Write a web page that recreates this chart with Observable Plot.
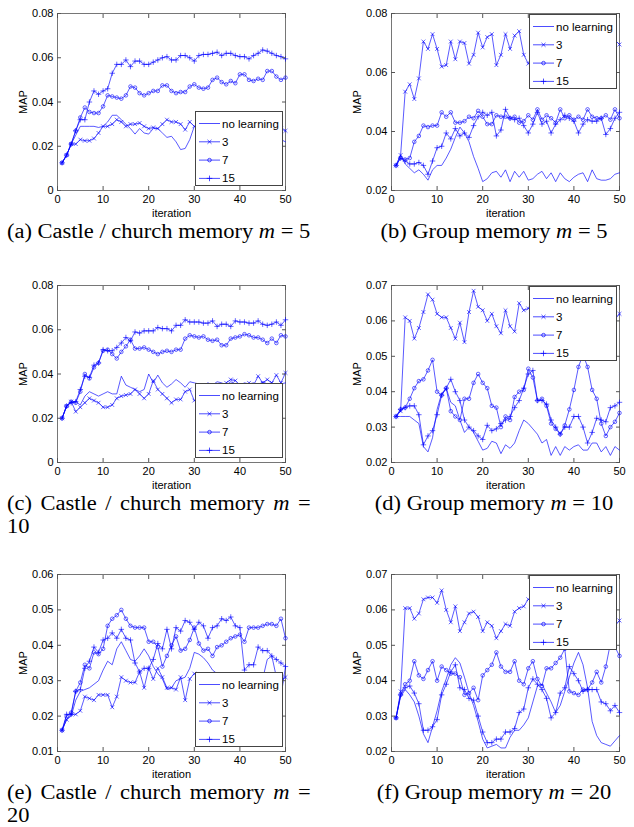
<!DOCTYPE html>
<html><head><meta charset="utf-8">
<script src="https://cdn.jsdelivr.net/npm/d3@7"></script>
<script src="https://cdn.jsdelivr.net/npm/@observablehq/plot@0.6"></script>
<style>
html,body{margin:0;padding:0;background:#fff}
#page{position:relative;width:634px;height:827px;overflow:hidden;background:#fff}
.panel{position:absolute}
.cap{position:absolute;font-family:"Liberation Serif","Times New Roman",serif;font-size:20px;line-height:23px;color:#000;white-space:nowrap;transform:scaleX(1.125)}
.cap.l{transform-origin:0 0}
.cap.c{text-align:center;transform-origin:50% 0}
.cap .line{display:block}
.cap .just{text-align:justify;text-align-last:justify}
.legend{position:absolute}
</style>
</head><body><div id="page"></div>
<script>
// ---------- data ----------
const ITERATIONS = [1,2,3,4,5,6,7,8,9,10,11,12,13,14,15,16,17,18,19,20,21,22,23,24,25,26,27,28,29,30,31,32,33,34,35,36,37,38,39,40,41,42,43,44,45,46,47,48,49,50];
const SERIES = ["no learning", "3", "7", "15"];
const X_TICKS = [0, 10, 20, 30, 40, 50];

// (a) Castle / church, m = 5
const A_NONE = [0.0125,0.016,0.021,0.025,0.029,0.029,0.029,0.029,0.0285,0.029, 0.031,0.034,0.034,0.032,0.030,0.028,0.0255,0.028,0.026,0.0255, 0.028,0.028,0.026,0.024,0.0245,0.022,0.0185,0.019,0.023,0.029, 0.027,0.025,0.026,0.024,0.023,0.025,0.026,0.024,0.022,0.023, 0.024,0.025,0.023,0.022,0.024,0.023,0.021,0.022,0.023,0.022];
const A_3 = [0.0125,0.016,0.021,0.021,0.023,0.0225,0.0225,0.0235,0.026,0.029, 0.029,0.030,0.032,0.031,0.029,0.030,0.030,0.0305,0.029,0.028, 0.0285,0.028,0.030,0.032,0.031,0.031,0.030,0.0275,0.031,0.029, 0.030,0.029,0.031,0.030,0.028,0.029,0.031,0.030,0.029,0.028, 0.030,0.029,0.027,0.028,0.030,0.029,0.028,0.027,0.028,0.027];
const A_7 = [0.0125,0.016,0.021,0.027,0.033,0.0375,0.0355,0.035,0.035,0.038, 0.043,0.0425,0.042,0.0415,0.043,0.047,0.0465,0.044,0.043,0.044, 0.045,0.045,0.0475,0.0475,0.045,0.044,0.0445,0.0445,0.047,0.048, 0.0465,0.046,0.0465,0.050,0.051,0.049,0.048,0.0495,0.0485,0.0525, 0.0525,0.050,0.0495,0.0505,0.050,0.054,0.054,0.0515,0.050,0.051];
const A_15 = [0.0125,0.016,0.021,0.027,0.032,0.032,0.040,0.045,0.0435,0.045, 0.046,0.053,0.057,0.057,0.059,0.056,0.0585,0.0585,0.057,0.057, 0.058,0.059,0.060,0.0605,0.059,0.059,0.061,0.061,0.060,0.0585, 0.061,0.0615,0.0615,0.062,0.0625,0.061,0.062,0.062,0.061,0.0605, 0.0605,0.0595,0.061,0.062,0.0635,0.063,0.062,0.061,0.0605,0.0595];

// (b) Group, m = 5
const B_NONE = [0.0285,0.032,0.029,0.0275,0.026,0.027,0.0255,0.0235,0.027,0.0285, 0.0285,0.031,0.034,0.038,0.0415,0.0395,0.0365,0.0315,0.0275,0.023, 0.024,0.026,0.0265,0.0245,0.027,0.023,0.0265,0.0245,0.0265,0.0235, 0.024,0.0255,0.0265,0.024,0.026,0.023,0.026,0.024,0.023,0.0245, 0.0255,0.026,0.023,0.027,0.024,0.0235,0.0235,0.024,0.0255,0.026];
const B_3 = [0.0285,0.032,0.0535,0.056,0.051,0.058,0.0705,0.068,0.073,0.068, 0.062,0.0625,0.0705,0.0645,0.0705,0.070,0.063,0.066,0.0735,0.0685, 0.072,0.073,0.0625,0.066,0.073,0.068,0.0725,0.074,0.066,0.063, 0.067,0.070,0.065,0.069,0.072,0.066,0.068,0.071,0.065,0.069, 0.072,0.067,0.070,0.066,0.071,0.068,0.072,0.067,0.071,0.0695];
const B_7 = [0.0285,0.031,0.0305,0.031,0.0365,0.0385,0.042,0.0415,0.042,0.042, 0.0465,0.045,0.0465,0.043,0.043,0.0435,0.045,0.0445,0.047,0.045, 0.0425,0.0425,0.0455,0.045,0.045,0.0445,0.045,0.043,0.0435,0.0455, 0.044,0.0475,0.044,0.0455,0.0445,0.043,0.0475,0.0445,0.0455,0.044, 0.045,0.044,0.0475,0.045,0.0445,0.0445,0.0455,0.044,0.0475,0.0445];
const B_15 = [0.0285,0.031,0.030,0.029,0.029,0.0295,0.0285,0.0255,0.030,0.0345, 0.035,0.0395,0.0375,0.041,0.0385,0.0395,0.038,0.042,0.045,0.0465, 0.0455,0.0465,0.0385,0.0405,0.0475,0.0445,0.044,0.0445,0.042,0.0395, 0.0425,0.0465,0.0425,0.0435,0.0395,0.0425,0.044,0.0455,0.0445,0.0435, 0.0395,0.0425,0.044,0.0435,0.0435,0.0445,0.039,0.041,0.0445,0.0465];

// (c) Castle / church, m = 10
const C_NONE = [0.020,0.0255,0.0275,0.0275,0.026,0.030,0.032,0.031,0.030,0.031, 0.032,0.031,0.031,0.039,0.035,0.034,0.033,0.032,0.033,0.040, 0.036,0.0395,0.036,0.034,0.0355,0.0375,0.036,0.034,0.0365,0.036, 0.0355,0.035,0.036,0.035,0.0365,0.036,0.035,0.0365,0.0355,0.035, 0.036,0.0355,0.036,0.035,0.0365,0.0355,0.036,0.035,0.0355,0.036];
const C_3 = [0.020,0.0255,0.0275,0.023,0.025,0.027,0.029,0.028,0.027,0.025, 0.025,0.026,0.029,0.030,0.0305,0.031,0.033,0.031,0.029,0.031, 0.037,0.033,0.031,0.029,0.027,0.0285,0.0285,0.032,0.033,0.028, 0.030,0.032,0.034,0.033,0.035,0.034,0.036,0.0375,0.037,0.035, 0.034,0.036,0.035,0.039,0.036,0.0375,0.036,0.0395,0.036,0.0405];
const C_7 = [0.020,0.0255,0.0275,0.027,0.032,0.040,0.038,0.043,0.045,0.0505, 0.051,0.049,0.047,0.050,0.0525,0.0555,0.0515,0.0515,0.052,0.051, 0.050,0.049,0.050,0.0505,0.050,0.051,0.051,0.056,0.0575,0.057, 0.0565,0.057,0.0555,0.055,0.0555,0.053,0.053,0.056,0.0565,0.057, 0.058,0.0575,0.0565,0.0565,0.0555,0.054,0.056,0.054,0.0575,0.057];
const C_15 = [0.020,0.0255,0.027,0.0275,0.033,0.039,0.0385,0.044,0.045,0.051, 0.0505,0.0505,0.052,0.054,0.0565,0.055,0.059,0.0585,0.0595,0.0595, 0.0595,0.061,0.0605,0.0605,0.0595,0.062,0.062,0.0645,0.0635,0.0635, 0.0635,0.063,0.063,0.064,0.0615,0.0625,0.0625,0.0615,0.064,0.0635, 0.0635,0.063,0.063,0.064,0.0625,0.062,0.0625,0.0635,0.062,0.0645];

// (d) Group, m = 10
const D_NONE = [0.033,0.033,0.033,0.033,0.032,0.031,0.0245,0.023,0.027,0.035, 0.0395,0.041,0.037,0.036,0.032,0.0285,0.030,0.0285,0.026,0.0235, 0.024,0.026,0.0255,0.0225,0.025,0.024,0.0255,0.029,0.032,0.031, 0.0295,0.028,0.0255,0.0265,0.022,0.0245,0.022,0.0245,0.0235,0.0245, 0.025,0.0235,0.0235,0.0255,0.0255,0.023,0.0245,0.022,0.0245,0.0235];
const D_3 = [0.033,0.0345,0.061,0.060,0.055,0.058,0.0625,0.0675,0.066,0.062, 0.061,0.061,0.058,0.055,0.0595,0.054,0.0625,0.0685,0.064,0.063, 0.060,0.062,0.0585,0.0565,0.063,0.0585,0.057,0.065,0.063,0.0635, 0.066,0.061,0.064,0.059,0.063,0.065,0.060,0.062,0.066,0.061, 0.064,0.060,0.063,0.065,0.061,0.063,0.060,0.064,0.0605,0.062];
const D_7 = [0.033,0.035,0.0355,0.038,0.041,0.043,0.0435,0.046,0.049,0.040, 0.039,0.041,0.0345,0.033,0.032,0.038,0.038,0.0425,0.045,0.0425, 0.041,0.036,0.0355,0.030,0.033,0.032,0.0385,0.040,0.0405,0.0465, 0.044,0.0375,0.038,0.036,0.031,0.0295,0.028,0.0305,0.035,0.0405, 0.047,0.0505,0.047,0.0405,0.038,0.031,0.0275,0.030,0.0315,0.034];
const D_15 = [0.033,0.035,0.0355,0.036,0.036,0.0335,0.025,0.0275,0.029,0.0335, 0.039,0.041,0.0435,0.040,0.0375,0.032,0.030,0.029,0.0275,0.0265, 0.0305,0.029,0.0295,0.031,0.032,0.033,0.0355,0.0375,0.041,0.045, 0.046,0.0375,0.0375,0.0365,0.032,0.030,0.028,0.030,0.030,0.033, 0.033,0.030,0.0255,0.0285,0.0325,0.032,0.0315,0.0355,0.036,0.037];

// (e) Castle / church, m = 20
const E_NONE = [0.016,0.019,0.020,0.0245,0.027,0.0275,0.028,0.029,0.030,0.033, 0.0355,0.0345,0.039,0.041,0.0385,0.036,0.0355,0.037,0.039,0.037, 0.034,0.032,0.0305,0.0275,0.028,0.030,0.0305,0.031,0.0335,0.038, 0.0375,0.0365,0.035,0.033,0.032,0.031,0.0315,0.032,0.0305,0.031, 0.030,0.0315,0.029,0.028,0.0305,0.036,0.037,0.031,0.0255,0.034];
const E_3 = [0.016,0.019,0.0205,0.0205,0.0215,0.0255,0.025,0.0245,0.026,0.026, 0.026,0.0225,0.0255,0.031,0.030,0.0295,0.0295,0.0325,0.028,0.0335, 0.0305,0.0335,0.031,0.028,0.028,0.0275,0.031,0.0245,0.0305,0.032, 0.0305,0.029,0.030,0.0285,0.031,0.030,0.029,0.0305,0.0295,0.031, 0.031,0.030,0.029,0.031,0.030,0.029,0.030,0.031,0.030,0.031];
const E_7 = [0.016,0.020,0.021,0.027,0.0295,0.0345,0.0335,0.038,0.0375,0.039, 0.0455,0.0475,0.0485,0.050,0.0475,0.0455,0.045,0.045,0.045,0.041, 0.041,0.0395,0.034,0.037,0.040,0.0425,0.0385,0.039,0.0415,0.045, 0.0405,0.0385,0.039,0.037,0.0395,0.040,0.041,0.042,0.0425,0.043, 0.041,0.045,0.045,0.045,0.0455,0.046,0.046,0.0455,0.0475,0.042];
const E_15 = [0.016,0.0205,0.0205,0.027,0.0275,0.0335,0.0355,0.0395,0.038,0.0415, 0.042,0.0435,0.042,0.0445,0.042,0.0415,0.035,0.0325,0.0335,0.0335, 0.036,0.0405,0.039,0.0445,0.039,0.045,0.044,0.047,0.0465,0.0445, 0.0465,0.0455,0.042,0.045,0.0455,0.0475,0.047,0.048,0.0455,0.045, 0.033,0.0345,0.0345,0.0395,0.0385,0.0385,0.037,0.036,0.035,0.034];

// (f) Group, m = 20
const F_NONE = [0.0295,0.0355,0.0375,0.036,0.034,0.030,0.025,0.0225,0.027,0.0315, 0.037,0.0405,0.0445,0.0465,0.045,0.041,0.0365,0.033,0.0285,0.0235, 0.021,0.0215,0.022,0.021,0.021,0.024,0.026,0.026,0.0275,0.0295, 0.034,0.0385,0.039,0.0365,0.034,0.031,0.033,0.037,0.041,0.045, 0.048,0.0445,0.038,0.0285,0.0245,0.0225,0.022,0.0215,0.023,0.0245];
const F_3 = [0.0295,0.037,0.0605,0.0605,0.0575,0.059,0.063,0.0635,0.0635,0.062, 0.0655,0.060,0.0565,0.061,0.054,0.0565,0.059,0.0595,0.058,0.054, 0.0565,0.0555,0.052,0.054,0.056,0.0555,0.0595,0.0605,0.061,0.063, 0.062,0.064,0.060,0.063,0.061,0.059,0.062,0.060,0.058,0.061, 0.059,0.057,0.060,0.058,0.056,0.059,0.057,0.055,0.0555,0.057];
const F_7 = [0.0295,0.036,0.039,0.040,0.0455,0.0415,0.0405,0.043,0.0455,0.040, 0.044,0.043,0.042,0.042,0.041,0.036,0.0365,0.038,0.0345,0.0415, 0.043,0.0445,0.048,0.044,0.0425,0.0425,0.0455,0.040,0.039,0.0435, 0.0455,0.0405,0.0385,0.0435,0.0435,0.045,0.0465,0.049,0.037,0.0365, 0.036,0.0375,0.0375,0.0395,0.0425,0.0395,0.044,0.0505,0.0495,0.047];
const F_15 = [0.0295,0.036,0.038,0.0385,0.0365,0.0335,0.026,0.026,0.027,0.029, 0.036,0.039,0.0425,0.0445,0.038,0.0375,0.035,0.0345,0.030,0.0255, 0.0225,0.0225,0.0235,0.0235,0.0255,0.0255,0.0265,0.031,0.032,0.038, 0.0405,0.039,0.0375,0.035,0.0295,0.031,0.0365,0.038,0.044,0.042, 0.040,0.037,0.0375,0.0375,0.0375,0.034,0.0335,0.0315,0.033,0.031];

const Y_TICKS_A = [0, 0.02, 0.04, 0.06, 0.08];
const Y_TICKS_B = [0.02, 0.04, 0.06, 0.08];
const Y_TICKS_D = [0.02, 0.03, 0.04, 0.05, 0.06, 0.07];
const Y_TICKS_E = [0.01, 0.02, 0.03, 0.04, 0.05, 0.06];

const PANELS = [
  {col:0,row:0,domain:[0,0.08],ticks:Y_TICKS_A,values:[A_NONE,A_3,A_7,A_15],legend:"se",caption:["(a) Castle / church memory <i>m</i> = 5"]},
  {col:1,row:0,domain:[0.02,0.08],ticks:Y_TICKS_B,values:[B_NONE,B_3,B_7,B_15],legend:"ne",caption:["(b) Group memory <i>m</i> = 5"]},
  {col:0,row:1,domain:[0,0.08],ticks:Y_TICKS_A,values:[C_NONE,C_3,C_7,C_15],legend:"se",caption:["(c) Castle / church memory <i>m</i> =", "10"]},
  {col:1,row:1,domain:[0.02,0.07],ticks:Y_TICKS_D,values:[D_NONE,D_3,D_7,D_15],legend:"ne",caption:["(d) Group memory <i>m</i> = 10"]},
  {col:0,row:2,domain:[0.01,0.06],ticks:Y_TICKS_E,values:[E_NONE,E_3,E_7,E_15],legend:"se",caption:["(e) Castle / church memory <i>m</i> =", "20"]},
  {col:1,row:2,domain:[0.02,0.07],ticks:Y_TICKS_D,values:[F_NONE,F_3,F_7,F_15],legend:"ne",caption:["(f) Group memory <i>m</i> = 20"]}
];

// ---------- layout / style ----------
const BLUE = "#0000ff";
const AXIS = "#555";
const COL_X = [0, 334];
const ROW_Y = [0, 272, 561];
const W = 300, H = 230, ML = 57, MR = 15, MT = 13, MB = 40;
const SYMBOL = {"3": "times", "7": "circle", "15": "plus"};
const fmt = d => d === 0 ? "0" : d3.format(".2f")(d);
const page = document.getElementById("page");

function legendSvg() {
  const w = 88, h = 75;
  const svg = d3.create("svg").attr("width", w).attr("height", h);
  svg.append("rect").attr("x", 0.5).attr("y", 0.5).attr("width", w - 1).attr("height", h - 1)
    .attr("fill", "#fff").attr("stroke", "#444").attr("stroke-width", 1);
  SERIES.forEach((s, i) => {
    const y = 12.5 + 18.3 * i;
    svg.append("line").attr("x1", 4).attr("x2", 25).attr("y1", y).attr("y2", y)
      .attr("stroke", BLUE).attr("stroke-width", 0.7);
    if (SYMBOL[s]) {
      const sym = {times: d3.symbolTimes, circle: d3.symbolCircle, plus: d3.symbolPlus}[SYMBOL[s]];
      svg.append("path").attr("d", d3.symbol(sym, SYMBOL[s] === "circle" ? 10 : 12)())
        .attr("transform", `translate(14.5,${y})`).attr("fill", "none").attr("stroke", BLUE).attr("stroke-width", 0.7);
    }
    svg.append("text").attr("x", 27).attr("y", y).attr("dy", "0.35em")
      .attr("font-family", "Liberation Sans, Arial, sans-serif").attr("font-size", 11.5).attr("fill", "#000").text(s);
  });
  return svg.node();
}

PANELS.forEach(p => {
  const rows = [];
  SERIES.forEach((s, k) => p.values[k].forEach((v, i) => rows.push({iteration: ITERATIONS[i], map: v, series: s})));
  const marks = [Plot.frame({stroke: AXIS, strokeWidth: 0.8})];
  SERIES.forEach(s => {
    const d = rows.filter(r => r.series === s);
    marks.push(Plot.line(d, {x: "iteration", y: "map", stroke: BLUE, strokeWidth: 0.65}));
    if (SYMBOL[s]) {
      marks.push(Plot.dot(d, {x: "iteration", y: "map", symbol: SYMBOL[s], r: SYMBOL[s] === "circle" ? 1.8 : 1.9,
        stroke: BLUE, fill: "none", strokeWidth: 0.6}));
    }
  });
  marks.push(
    Plot.axisX({ticks: X_TICKS, anchor: "bottom", tickSize: -4, fill: "none", stroke: AXIS, label: null}),
    Plot.axisX({ticks: X_TICKS, anchor: "top", tickSize: -4, fill: "none", stroke: AXIS, label: null}),
    Plot.axisY({ticks: p.ticks, anchor: "left", tickSize: -4, fill: "none", stroke: AXIS, label: null}),
    Plot.axisY({ticks: p.ticks, anchor: "right", tickSize: -4, fill: "none", stroke: AXIS, label: null}),
    Plot.axisX({ticks: X_TICKS, anchor: "bottom", tickSize: 0, tickPadding: 5, tickFormat: d => String(d),
      label: "iteration", labelAnchor: "center", labelOffset: 26, labelArrow: "none"}),
    Plot.axisY({ticks: p.ticks, anchor: "left", tickSize: 0, tickPadding: 4, tickFormat: fmt,
      label: "MAP", labelAnchor: "center", labelOffset: 38, labelArrow: "none"})
  );
  const chart = Plot.plot({
    width: W, height: H, marginLeft: ML, marginRight: MR, marginTop: MT, marginBottom: MB,
    x: {domain: [0, 50]},
    y: {domain: p.domain},
    style: {fontFamily: "Liberation Sans, Arial, sans-serif", fontSize: "11px", color: "#000", background: "transparent", overflow: "visible"},
    marks
  });
  const wrap = document.createElement("div");
  wrap.className = "panel";
  wrap.style.left = COL_X[p.col] + "px";
  wrap.style.top = ROW_Y[p.row] + "px";
  wrap.appendChild(chart);
  page.appendChild(wrap);

  // legend (added on top of the plot, inside its frame)
  const lg = document.createElement("div");
  lg.className = "legend";
  const frameRight = COL_X[p.col] + W - MR;
  const frameTop = ROW_Y[p.row] + MT;
  const frameBottom = ROW_Y[p.row] + H - MB;
  lg.style.left = (frameRight - 2 - 88) + "px";
  lg.style.top = (p.legend === "ne" ? frameTop + 1 : frameBottom - 4 - 75) + "px";
  lg.appendChild(legendSvg());
  page.appendChild(lg);

  // caption (each line its own block; first line of a two-line caption is justified)
  const cap = document.createElement("div");
  cap.className = "cap " + (p.col === 1 ? "c" : "l");
  p.caption.forEach((t, i) => {
    const ln = document.createElement("div");
    ln.className = "line" + (p.caption.length > 1 && i === 0 ? " just" : "");
    ln.innerHTML = t;
    cap.appendChild(ln);
  });
  const capTop = [220, 492, 781][p.row];
  if (p.col === 0) { cap.style.left = "7px"; cap.style.width = "270px"; }
  else { cap.style.left = "334px"; cap.style.width = "320px"; }
  cap.style.top = capTop + "px";
  page.appendChild(cap);
});
</script>
</body></html>
